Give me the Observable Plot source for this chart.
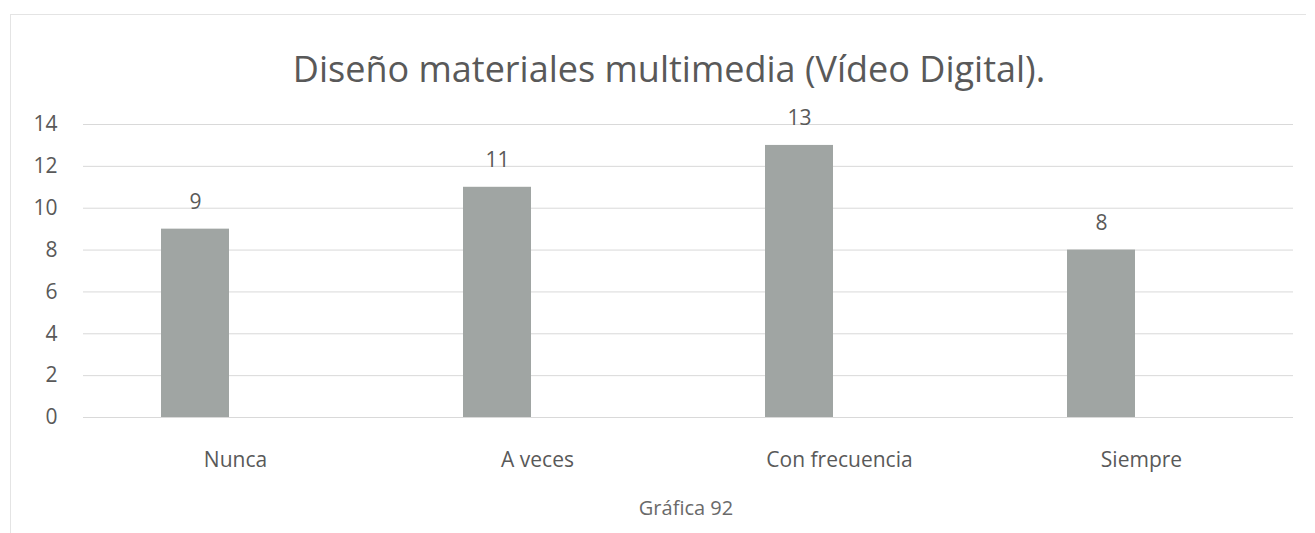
<!DOCTYPE html>
<html>
<head>
<meta charset="utf-8">
<script src="https://cdn.jsdelivr.net/npm/d3@7"></script>
<script src="https://cdn.jsdelivr.net/npm/@observablehq/plot@0.6"></script>
<style>
  html, body { margin: 0; padding: 0; background: #fff; }
  body { width: 1315px; height: 533px; overflow: hidden; position: relative; font-family: "Open Sans", "Noto Sans", sans-serif; color: #595959; }
  #frame { position: absolute; left: 10px; top: 14px; width: 1295px; height: 530px; border-left: 1px solid #e4e4e4; border-top: 1px solid #e4e4e4; }
  #title { position: absolute; left: 0; top: 0; width: 1338px; text-align: center; font-size: 36px; line-height: 1; padding-top: 51px; color: #595959; }
  #chart { position: absolute; left: 0; top: 100px; }
  #caption { position: absolute; left: 0; top: 494px; width: 1372px; text-align: center; font-size: 20px; color: #6a6a6a; }
</style>
</head>
<body>
<div id="frame"></div>
<div id="title">Diseño materiales multimedia (Vídeo Digital).</div>
<div id="chart"></div>
<div id="caption">Gráfica 92</div>
<script>
const categories = ["Nunca", "A veces", "Con frecuencia", "Siempre"];
const values = [9, 11, 13, 8];
const yTicks = [0, 2, 4, 6, 8, 10, 12, 14];

const data = categories.map((c, i) => ({category: c, value: values[i]}));

const chart = Plot.plot({
  width: 1315,
  height: 385,
  marginLeft: 83,
  marginRight: 22,
  marginTop: 24,
  marginBottom: 68,
  style: {fontFamily: "'Open Sans', 'Noto Sans', sans-serif", fontSize: "20px", color: "#595959", background: "transparent"},
  x: {domain: categories, paddingInner: 0.775, paddingOuter: 0.3875, label: null},
  y: {domain: [0, 14], ticks: yTicks, label: null},
  marks: [
    Plot.gridY(yTicks, {stroke: "#d9d9d9", strokeOpacity: 1, strokeWidth: 1}),
    Plot.axisY(yTicks, {tickSize: 0, tickPadding: 26, fontSize: 21, fill: "#595959", label: null}),
    Plot.axisX({tickSize: 0, tickPadding: 35, fontSize: 21, fill: "#595959", label: null}),
    Plot.barY(data, {x: "category", y: "value", fill: "#a0a5a3", dx: -40}),
    Plot.text(data, {x: "category", y: "value", text: d => String(d.value), dx: -40, dy: -20, lineAnchor: "bottom", fontSize: 21, fill: "#595959"})
  ]
});
document.getElementById("chart").appendChild(chart);
</script>
</body>
</html>
